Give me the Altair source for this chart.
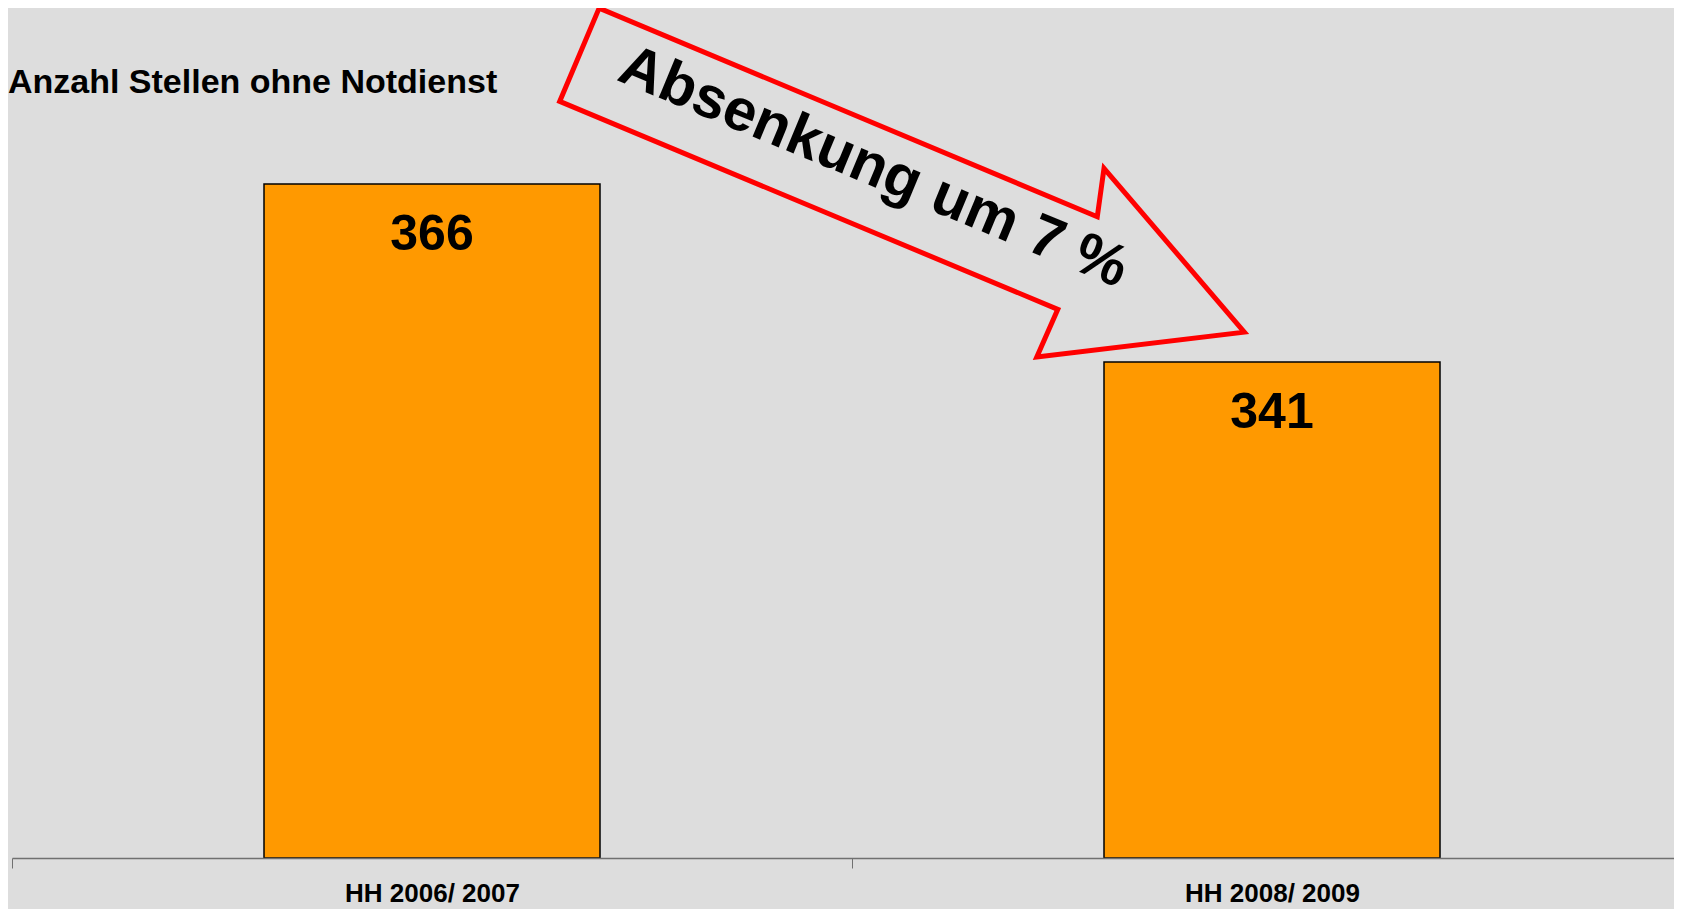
import altair as alt
import pandas as pd

# ---- data ----
categories = ["HH 2006/ 2007", "HH 2008/ 2009"]
values = [366, 341]

title_text = "Anzahl Stellen ohne Notdienst"
arrow_label = "Absenkung um 7 %"

# arrow outline vertices (x in category-slot units 0..2, y in value units)
arrow_x = [0.699, 1.292, 1.300, 1.467, 1.220, 1.245, 0.652, 0.699]
arrow_y = [390.7, 361.4, 368.2, 345.2, 341.7, 348.4, 377.6, 390.7]
arrow_text_x = [1.026]
arrow_text_y = [368.35]

title_x = [-0.0048]
title_y = [378.8]

Y_MIN, Y_MAX = 271.34, 390.72

bars_df = pd.DataFrame({"cat": categories, "v": values})
arrow_df = pd.DataFrame({"xq": arrow_x, "v": arrow_y, "i": list(range(len(arrow_x)))})
lab_df = pd.DataFrame({"xq": arrow_text_x, "v": arrow_text_y, "t": [arrow_label]})
title_df = pd.DataFrame({"xq": title_x, "v": title_y, "t": [title_text]})

yscale = alt.Scale(domain=[Y_MIN, Y_MAX], zero=False, nice=False)
xband = alt.Scale(range=[0, 1680], paddingInner=0, paddingOuter=0)
xq = alt.Scale(domain=[0, 2], range=[0, 1680], nice=False, zero=False)

FONT = "Liberation Sans"

bars = alt.Chart(bars_df).mark_bar(
    width=alt.RelativeBandSize(0.4), color="#FF9900", stroke="black", strokeWidth=1.5
).encode(
    x=alt.X("cat:N", sort=categories, scale=xband,
            axis=alt.Axis(title=None, labelAngle=0, tickBand="extent", grid=False,
                          domainColor="#707070", domainWidth=1.5, tickColor="#707070",
                          tickSize=10, tickWidth=1, labelFontSize=26, labelFont=FONT,
                          labelFontWeight="bold", labelColor="black", labelPadding=12,
                          labelLimit=0, zindex=1)),
    y=alt.Y("v:Q", scale=yscale, axis=None),
    y2=alt.datum(Y_MIN),
)

bar_text = alt.Chart(bars_df).mark_text(
    dy=51, baseline="middle", align="center", fontSize=50, fontWeight="bold", font=FONT, color="black"
).encode(
    x=alt.X("cat:N", sort=categories, scale=xband, axis=None),
    y=alt.Y("v:Q", scale=yscale, axis=None),
    text=alt.Text("v:Q"),
)

arrow = alt.Chart(arrow_df).mark_line(
    color="#FF0000", strokeWidth=5, strokeJoin="miter", strokeMiterLimit=20
).encode(
    x=alt.X("xq:Q", scale=xq, axis=None),
    y=alt.Y("v:Q", scale=yscale, axis=None),
    order=alt.Order("i:Q"),
)

arrow_text = alt.Chart(lab_df).mark_text(
    angle=22.5, align="center", baseline="middle", fontSize=59, fontWeight="bold",
    font=FONT, color="black"
).encode(
    x=alt.X("xq:Q", scale=xq, axis=None),
    y=alt.Y("v:Q", scale=yscale, axis=None),
    text="t:N",
)

title = alt.Chart(title_df).mark_text(
    align="left", baseline="alphabetic", fontSize=34, fontWeight="bold", font=FONT, color="black"
).encode(
    x=alt.X("xq:Q", scale=xq, axis=None),
    y=alt.Y("v:Q", scale=yscale, axis=None),
    text="t:N",
)

chart = alt.layer(bars, bar_text, arrow, arrow_text, title).resolve_scale(
    x="independent"
).properties(
    width=1662, height=850,
    padding={"left": 4, "top": 0, "right": 0, "bottom": 51},
    autosize="none",
    background="#DDDDDD",
).configure_view(stroke=None)

chart.save("out.html", embed_options={"renderer": "svg", "actions": False})
